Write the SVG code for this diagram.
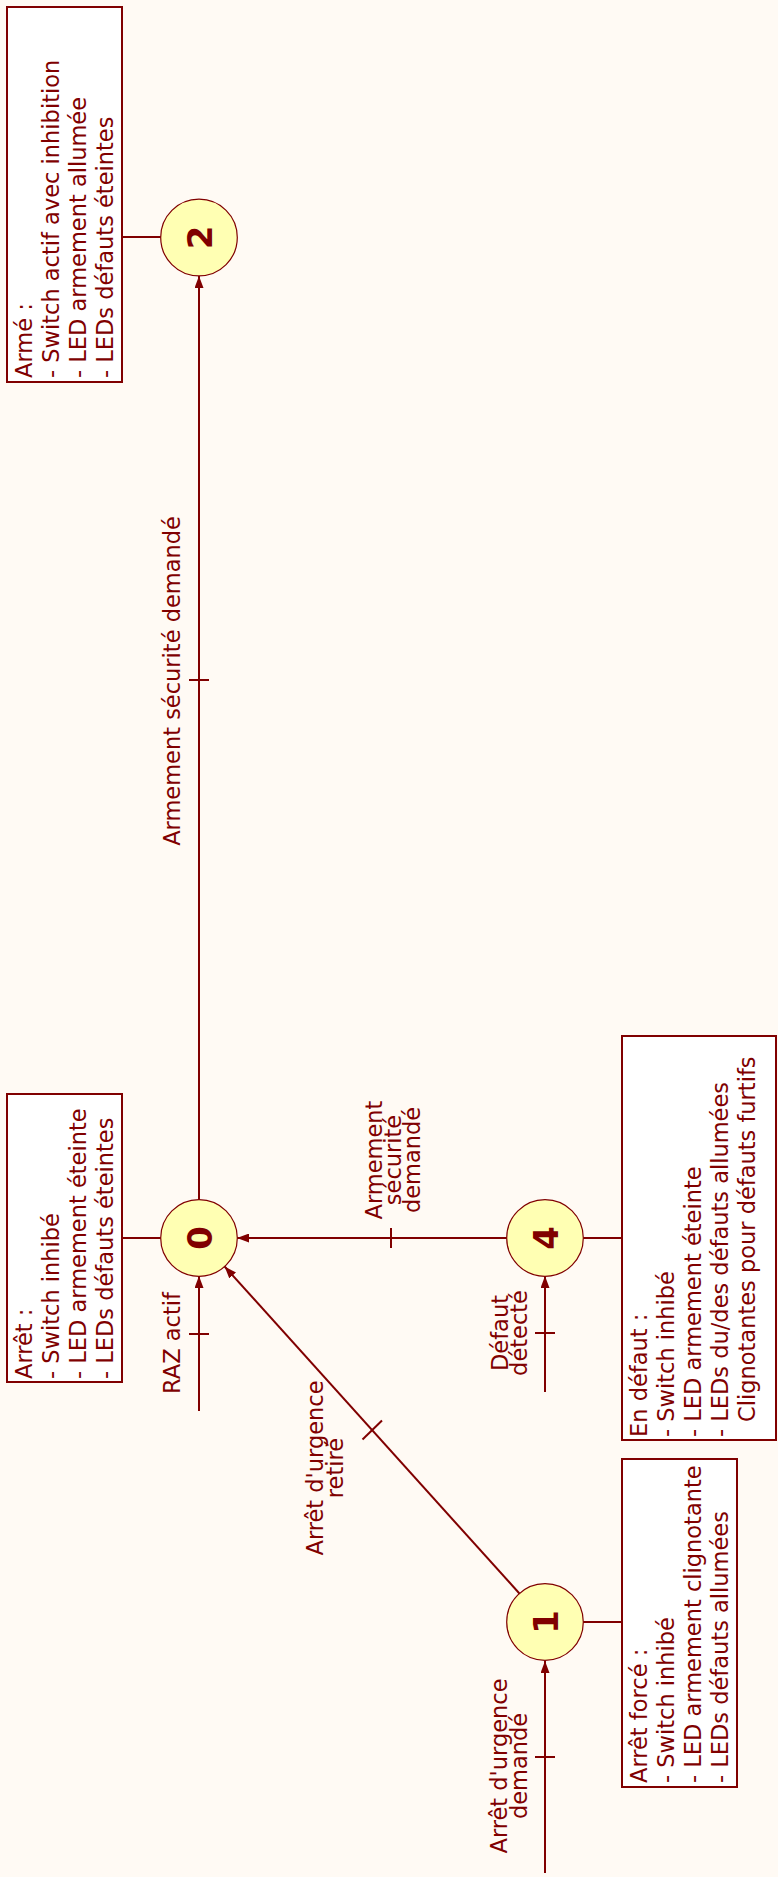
<svg xmlns="http://www.w3.org/2000/svg" width="778" height="1877" viewBox="0 0 778 1877">
<style>
.bg{fill:#fffaf4}
.st{fill:#ffffb3;stroke:#800000;stroke-width:1.2}
.num{font-family:"DejaVu Sans",sans-serif;font-weight:bold;font-size:34px;fill:#800000;text-anchor:middle}
.box{fill:#ffffff;stroke:#800000;stroke-width:2}
.bt{font-family:"DejaVu Sans",sans-serif;font-size:22.5px;fill:#800000}
.lbl{font-family:"DejaVu Sans",sans-serif;font-size:22.5px;fill:#800000;text-anchor:middle}
.ln{stroke:#800000;stroke-width:2;fill:none}
.arr{stroke:#800000;stroke-width:2;fill:none;marker-end:url(#ah)}
</style>
<defs>
<marker id="ah" markerUnits="userSpaceOnUse" markerWidth="12" markerHeight="9" refX="12" refY="4.5" orient="auto">
<path d="M0,0 L12,4.5 L0,9 z" fill="#800000"/>
</marker>
</defs>
<rect class="bg" x="0" y="0" width="778" height="1877"/>
<g id="connectors">
<line class="arr" x1="199" y1="1200" x2="199" y2="276"/>
<line class="ln" x1="189" y1="680" x2="209" y2="680"/>
<text class="lbl" transform="translate(180,681) rotate(-90)">Armement sécurité demandé</text>
<line class="arr" x1="199" y1="1411" x2="199" y2="1276"/>
<line class="ln" x1="189" y1="1334" x2="209" y2="1334"/>
<text class="lbl" transform="translate(180,1343) rotate(-90)">RAZ actif</text>
<line class="arr" x1="507" y1="1238" x2="237" y2="1238"/>
<line class="ln" x1="391" y1="1228" x2="391" y2="1248"/>
<text class="lbl" transform="translate(382,1160) rotate(-90)"><tspan x="0" y="0">Armement</tspan><tspan x="0" y="19">sécurité</tspan><tspan x="0" y="38">demandé</tspan></text>
<line class="arr" x1="545" y1="1392" x2="545" y2="1276"/>
<line class="ln" x1="535" y1="1333" x2="555" y2="1333"/>
<text class="lbl" transform="translate(507.5,1333) rotate(-90)"><tspan x="0" y="0">Défaut</tspan><tspan x="0" y="19.5">détecté</tspan></text>
<line class="arr" x1="545" y1="1873" x2="545" y2="1661"/>
<line class="ln" x1="535" y1="1757" x2="555" y2="1757"/>
<text class="lbl" transform="translate(507,1766) rotate(-90)"><tspan x="0" y="0">Arrêt d'urgence</tspan><tspan x="0" y="20">demandé</tspan></text>
<line class="arr" x1="519.4" y1="1593.5" x2="224.6" y2="1266.5"/>
<line class="ln" x1="362.5" y1="1439.5" x2="382" y2="1420.5"/>
<text class="lbl" transform="translate(323,1468) rotate(-90)"><tspan x="0" y="0">Arrêt d'urgence</tspan><tspan x="0" y="20">retiré</tspan></text>
<line class="ln" x1="122" y1="237" x2="161" y2="237"/>
<line class="ln" x1="122" y1="1238" x2="161" y2="1238"/>
<line class="ln" x1="583" y1="1238" x2="622" y2="1238"/>
<line class="ln" x1="583" y1="1622" x2="622" y2="1622"/>
</g>
<g id="node2">
<circle class="st" cx="199" cy="237.5" r="38.3"/>
<text class="num" transform="translate(211.5,237.5) rotate(-90)">2</text>
</g>
<g id="node0">
<circle class="st" cx="199" cy="1238" r="38.3"/>
<text class="num" transform="translate(211.5,1238) rotate(-90)">0</text>
</g>
<g id="node4">
<circle class="st" cx="545" cy="1238" r="38.3"/>
<text class="num" transform="translate(557.5,1238) rotate(-90)">4</text>
</g>
<g id="node1">
<circle class="st" cx="545" cy="1622" r="38.3"/>
<text class="num" transform="translate(557.5,1622) rotate(-90)">1</text>
</g>
<g id="note2">
<rect class="box" x="7" y="7" width="115" height="375"/>
<text class="bt" transform="translate(32,378) rotate(-90)">Armé :</text>
<text class="bt" transform="translate(59,378) rotate(-90)">- Switch actif avec inhibition</text>
<text class="bt" transform="translate(86,378) rotate(-90)">- LED armement allumée</text>
<text class="bt" transform="translate(113,378) rotate(-90)">- LEDs défauts éteintes</text>
</g>
<g id="note0">
<rect class="box" x="7" y="1094" width="115" height="288"/>
<text class="bt" transform="translate(32,1379) rotate(-90)">Arrêt :</text>
<text class="bt" transform="translate(59,1379) rotate(-90)">- Switch inhibé</text>
<text class="bt" transform="translate(86,1379) rotate(-90)">- LED armement éteinte</text>
<text class="bt" transform="translate(113,1379) rotate(-90)">- LEDs défauts éteintes</text>
</g>
<g id="note4">
<rect class="box" x="622" y="1036" width="154" height="404"/>
<text class="bt" transform="translate(647,1437) rotate(-90)">En défaut :</text>
<text class="bt" transform="translate(674,1437) rotate(-90)">- Switch inhibé</text>
<text class="bt" transform="translate(701,1437) rotate(-90)">- LED armement éteinte</text>
<text class="bt" transform="translate(728,1437) rotate(-90)">- LEDs du/des défauts allumées</text>
<text class="bt" transform="translate(755,1422) rotate(-90)">Clignotantes pour défauts furtifs</text>
</g>
<g id="note1">
<rect class="box" x="622" y="1459" width="115" height="328"/>
<text class="bt" transform="translate(647,1783) rotate(-90)">Arrêt forcé :</text>
<text class="bt" transform="translate(674,1783) rotate(-90)">- Switch inhibé</text>
<text class="bt" transform="translate(701,1783) rotate(-90)">- LED armement clignotante</text>
<text class="bt" transform="translate(728,1783) rotate(-90)">- LEDs défauts allumées</text>
</g>
</svg>
